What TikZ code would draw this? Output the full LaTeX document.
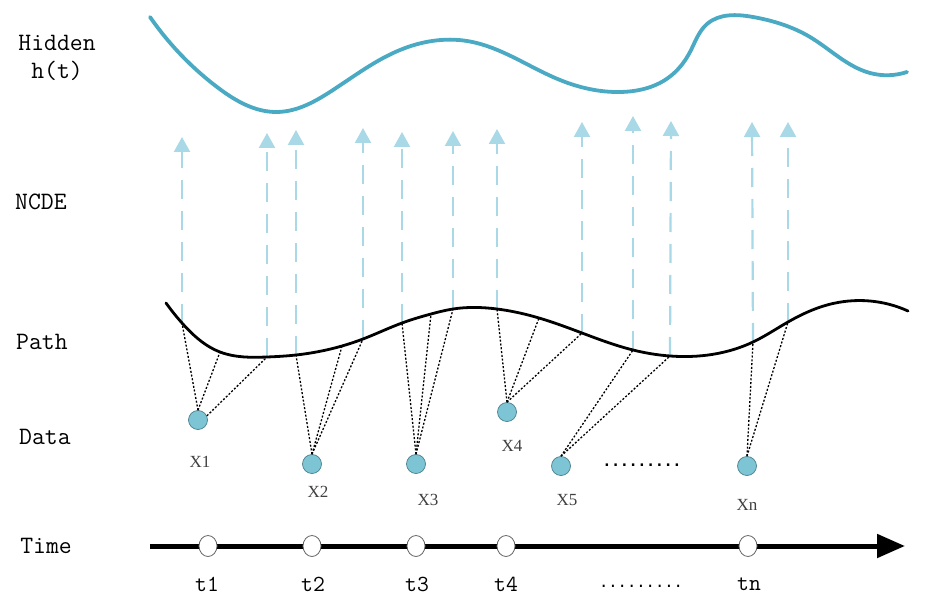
\documentclass[tikz,border=0pt]{standalone}
\usepackage{fontspec}
\usetikzlibrary{arrows.meta,shapes.geometric,hobby}
\newfontfamily\xfont{Liberation Serif}
\newfontfamily\dotfont{DejaVu Sans Mono}
\definecolor{hidc}{HTML}{4AAAC4}
\definecolor{ncdec}{HTML}{A9D8E6}
\definecolor{datac}{HTML}{7DC5D5}
\definecolor{datab}{HTML}{4A7F8C}
\begin{document}
\begin{tikzpicture}[x=1pt,y=-1pt,
  rowlabel/.style={font=\ttfamily\fontsize{25}{28}\selectfont, text=black, align=center},
  datanode/.style={circle, fill=datac, draw=datab, line width=0.7pt, minimum size=19pt, inner sep=0pt},
  timenode/.style={ellipse, fill=white, draw=black!60, line width=0.8pt, minimum width=18pt, minimum height=21pt, inner sep=0pt},
  xlab/.style={font=\xfont\fontsize{17}{17}\selectfont, text=black!75},
  tlab/.style={font=\ttfamily\fontsize{23}{23}\selectfont, text=black},
  ncde/.style={ncdec, line width=2.2pt, dash pattern=on 19pt off 12pt, -{Triangle[width=16pt,length=15pt]}},
  link/.style={black, line width=1.3pt, dash pattern=on 2pt off 1.8pt},
  hidden/.style={hidc, line width=3.8pt, line cap=round},
  pathcurve/.style={black, line width=2.8pt, line cap=round}
]
\useasboundingbox (0,0) rectangle (937,612);
\fill[white] (0,0) rectangle (937,612);

% row labels
\node[rowlabel] (lhid) at (57,58) {Hidden\\h(t)};
\node[rowlabel] (lncde) at (41,202) {NCDE};
\node[rowlabel] (lpath) at (42,342) {Path};
\node[rowlabel] (ldata) at (45,437) {Data};
\node[rowlabel] (ltime) at (46,546) {Time};

% hidden state curve
\draw[hidden] (150,17) to[curve through={(217,87) (277,112) (333,90) (400,50) (467,41) (560,80) (620,92) (668,78) (690,52) (707,24) (753,17) (810,37) (870,73)}] (907,72);

% path points
\coordinate (p1) at (182,323);
\coordinate (q1) at (220,352);
\coordinate (p2) at (267,357);
\coordinate (p3) at (296,355);
\coordinate (q2) at (342,346);
\coordinate (p4) at (363,339);
\coordinate (p5) at (402,323);
\coordinate (q3) at (431,314);
\coordinate (p6) at (453,309);
\coordinate (p7) at (497,309);
\coordinate (q4) at (539,318);
\coordinate (p8) at (582,333);
\coordinate (p9) at (633,350);
\coordinate (p10) at (670,356);
\coordinate (p11) at (753,342);
\coordinate (p12) at (788,322);

% NCDE arrow tips
\coordinate (a1) at (182,137);
\coordinate (a2) at (267,133);
\coordinate (a3) at (296,130);
\coordinate (a4) at (363,128);
\coordinate (a5) at (402,132);
\coordinate (a6) at (453,131);
\coordinate (a7) at (497,129);
\coordinate (a8) at (582,122);
\coordinate (a9) at (633,116);
\coordinate (a10) at (671,121);
\coordinate (a11) at (752,122);
\coordinate (a12) at (788,122);

\foreach \i in {1,...,12} {\draw[ncde] (p\i) -- (a\i);}

% path curve
\draw[pathcurve] (166,303) to[curve through={(p1) (q1) (p2) (p3) (q2) (p4) (p5) (q3) (p6) (p7) (q4) (p8) (p9) (p10) (p11) (p12) (827,305) (870,301)}] (908,311);

% data nodes
\node[datanode] (x1) at (198,420) {};
\node[datanode] (x2) at (312,464) {};
\node[datanode] (x3) at (416,464) {};
\node[datanode] (x4) at (507,412) {};
\node[datanode] (x5) at (561,466) {};
\node[datanode] (xn) at (747,466) {};

\node[xlab] (lx1) at (200,462) {X1};
\node[xlab] (lx2) at (318,492) {X2};
\node[xlab] (lx3) at (428,500) {X3};
\node[xlab] (lx4) at (512,446) {X4};
\node[xlab] (lx5) at (567,500) {X5};
\node[xlab] (lxn) at (747,505) {Xn};

\node[font=\dotfont\bfseries\fontsize{14.5}{14.5}\selectfont, inner sep=0pt] (ddots) at (642,465) {.........};

% links from data to path
\draw[link] (x1.north) -- (p1);
\draw[link] (x1.north) -- (q1);
\draw[link] (x1.25) -- (p2);
\draw[link] (x2.north) -- (p3);
\draw[link] (x2.north) -- (q2);
\draw[link] (x2.north) -- (p4);
\draw[link] (x3.north) -- (p5);
\draw[link] (x3.north) -- (q3);
\draw[link] (x3.north) -- (p6);
\draw[link] (x4.north) -- (p7);
\draw[link] (x4.north) -- (q4);
\draw[link] (x4.north) -- (p8);
\draw[link] (x5.north) -- (p9);
\draw[link] (x5.north) -- (p10);
\draw[link] (xn.north) -- (p11);
\draw[link] (xn.north) -- (p12);

% time axis
\coordinate (tstart) at (150,546);
\coordinate (tend) at (905,546);
\draw[black, line width=5pt, -{Triangle[width=23pt,length=28pt]}] (tstart) -- (tend);
\node[timenode] (t1) at (208,546) {};
\node[timenode] (t2) at (312,546) {};
\node[timenode] (t3) at (416,546) {};
\node[timenode] (t4) at (506,546) {};
\node[timenode] (tn) at (748,546) {};

\node[tlab] (lt1) at (207,584) {t1};
\node[tlab] (lt2) at (313,584) {t2};
\node[tlab] (lt3) at (417,584) {t3};
\node[tlab] (lt4) at (506,584) {t4};
\node[font=\dotfont\fontsize{15.5}{15.5}\selectfont, inner sep=0pt] (tdots) at (641,586) {.........};
\node[tlab] (ltn) at (749,584) {tn};
\end{tikzpicture}
\end{document}
